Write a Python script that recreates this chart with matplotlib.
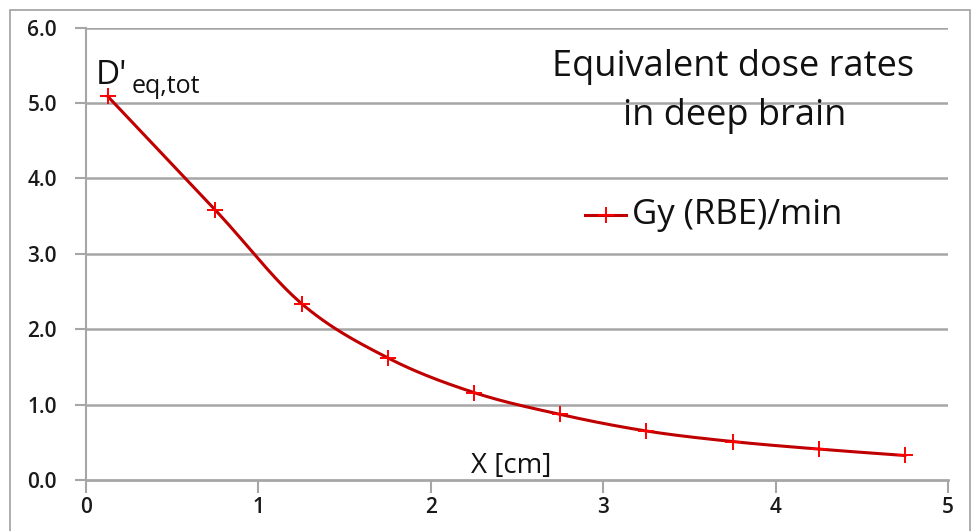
import numpy as np
import matplotlib
matplotlib.use("Agg")
import matplotlib.pyplot as plt
from matplotlib.patches import Rectangle
from matplotlib.lines import Line2D

# Data
x_cm = [0.125, 0.75, 1.25, 1.75, 2.25, 2.75, 3.25, 3.75, 4.25, 4.75]
dose_rate = [5.09, 3.58, 2.34, 1.62, 1.16, 0.87, 0.65, 0.51, 0.41, 0.325]
x_ticks = [0, 1, 2, 3, 4, 5]
y_ticks = [0.0, 1.0, 2.0, 3.0, 4.0, 5.0, 6.0]
y_tick_labels = ["0.0", "1.0", "2.0", "3.0", "4.0", "5.0", "6.0"]
series_label = "Gy (RBE)/min"
title_lines = ["Equivalent dose rates", "in deep brain"]


def smooth_curve(xs, ys, n=30):
    """Catmull-Rom rendering of the line between data points (Excel-style smoothing)."""
    xs = np.asarray(xs, float)
    ys = np.asarray(ys, float)
    P = np.column_stack([xs, ys])
    P = np.vstack([P[0] - (P[1] - P[0]), P, P[-1] + (P[-1] - P[-2])])
    out = []
    t = np.linspace(0, 1, n)[:, None]
    for i in range(1, len(P) - 2):
        p0, p1, p2, p3 = P[i - 1], P[i], P[i + 1], P[i + 2]
        seg = 0.5 * ((2 * p1) + (-p0 + p2) * t + (2 * p0 - 5 * p1 + 4 * p2 - p3) * t ** 2
                     + (-p0 + 3 * p1 - 3 * p2 + p3) * t ** 3)
        out.append(seg if i == 1 else seg[1:])
    seg = np.vstack(out)
    return seg[:, 0], seg[:, 1]


plt.rcParams['font.family'] = ['Open Sans', 'DejaVu Sans']

W, H = 977, 531
fig = plt.figure(figsize=(W / 100, H / 100), dpi=100)

# outer chart frame
fig.patches.append(Rectangle((10 / W, -0.05), 960 / W, 1.05 - 10 / H,
                             transform=fig.transFigure, fill=False,
                             edgecolor="#a0a0a0", linewidth=1.2))

left, right, top, bottom = 86, 948, 27.5, 480
ax = fig.add_axes([left / W, 1 - bottom / H, (right - left) / W, (bottom - top) / H])
ax.set_xlim(0, 5)
ax.set_ylim(0, 6)

grid_color = "#a6a6a6"
for yv in y_ticks[1:]:
    ax.axhline(yv, color=grid_color, linewidth=1.8, zorder=1)

for s in ["top", "right"]:
    ax.spines[s].set_visible(False)
ax.spines["left"].set_color(grid_color)
ax.spines["left"].set_linewidth(1.5)
ax.spines["bottom"].set_color(grid_color)
ax.spines["bottom"].set_linewidth(2.0)

tick_font = dict(fontsize=15, fontweight="semibold", color="#1a1a1a")
ax.set_xticks(x_ticks)
ax.set_xticklabels([str(v) for v in x_ticks], **tick_font)
ax.set_yticks(y_ticks)
ax.set_yticklabels(y_tick_labels, **tick_font)
ax.tick_params(axis="both", direction="out", color=grid_color, width=1.5)
ax.tick_params(axis="x", length=9, pad=3)
ax.tick_params(axis="y", length=8, pad=13)

sx, sy = smooth_curve(x_cm, dose_rate)
ax.plot(sx, sy, color="#c00000", linewidth=2.2, zorder=3, clip_on=False)
ax.plot(x_cm, dose_rate, linestyle="none", marker="+", markersize=11,
        markeredgewidth=1.4, color="#ff0000", zorder=4, clip_on=False)

txt_color = "#111111"
# Title
ax.text(733 / W, 1 - 67 / H, title_lines[0], transform=fig.transFigure,
        ha="center", va="center", fontsize=26, color=txt_color)
ax.text(735 / W, 1 - 116 / H, title_lines[1], transform=fig.transFigure,
        ha="center", va="center", fontsize=26, color=txt_color)

# Legend (manual placement)
fig.lines.append(Line2D([585 / W, 626 / W], [1 - 215 / H] * 2, transform=fig.transFigure,
                        color="#c00000", linewidth=2.2))
fig.lines.append(Line2D([606 / W], [1 - 215 / H], transform=fig.transFigure,
                        marker="+", markersize=11, markeredgewidth=1.4, color="#ff0000"))
ax.text(632 / W, 1 - 215 / H, series_label, transform=fig.transFigure,
        ha="left", va="center", fontsize=25, color=txt_color)

# Y label annotation
ax.text(96 / W, 1 - 84 / H, "D'", transform=fig.transFigure,
        ha="left", va="baseline", fontsize=24, color=txt_color)
ax.text(132 / W, 1 - 93 / H, "eq,tot", transform=fig.transFigure,
        ha="left", va="baseline", fontsize=18, color=txt_color)

# X label inside plot
ax.text(511 / W, 1 - 466 / H, "X [cm]", transform=fig.transFigure,
        ha="center", va="center", fontsize=20, color=txt_color)

fig.savefig("out.png", dpi=100)
